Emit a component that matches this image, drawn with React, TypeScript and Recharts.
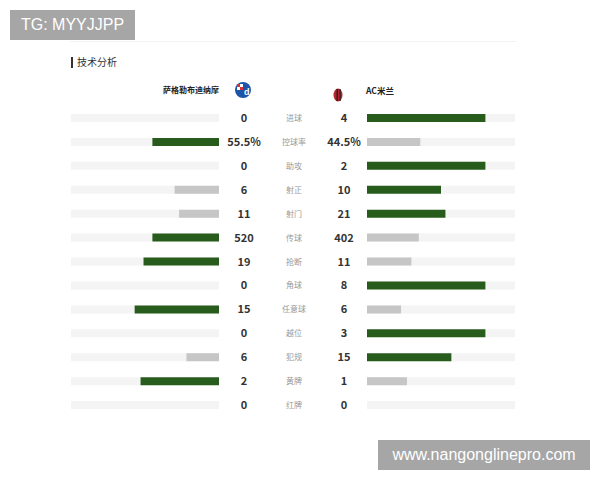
import React from "react";
import { BarChart, Bar, XAxis, YAxis, Cell, LabelList } from "recharts";

// stat names (centre column)
const stats = ["进球", "控球率", "助攻", "射正", "射门", "传球", "抢断", "角球", "任意球", "越位", "犯规", "黄牌", "红牌"];
// displayed values
const homeVals = ["0", "55.5%", "0", "6", "11", "520", "19", "0", "15", "0", "6", "2", "0"];
const awayVals = ["4", "44.5%", "2", "10", "21", "402", "11", "8", "6", "3", "15", "1", "0"];
// bar fill, % of track
const homeShare = [0, 45, 0, 30, 27, 45, 51, 0, 57, 0, 22, 53, 0];
const awayShare = [80, 36, 80, 50, 53, 35, 30, 80, 23, 80, 57, 27, 0];
// which side is highlighted green
const homeWin = [false, true, false, false, false, true, true, false, true, false, false, true, false];
const awayWin = [true, false, true, true, true, false, false, true, false, true, true, false, false];

const GREEN = "#285c1c";
const GREY = "#c6c6c6";
const TRACK = "#f4f4f4";
const FONT = "'Noto Sans CJK SC', 'Noto Sans', sans-serif";

const data = stats.map((s, i) => ({ stat: s, home: homeShare[i], away: awayShare[i] }));

const numLabel = (vals: string[], dx: number) => (p: any) => {
  const { x, y, width, height, index } = p;
  const cx = dx > 0 ? x + width + dx : x + dx;
  return (
    <text x={cx} y={y + height / 2} dy={4} textAnchor="middle" fontSize={11} fontWeight={700} fill="#333" fontFamily={FONT}>
      {vals[index]}
    </text>
  );
};

const statLabel = (p: any) => {
  const { x, y, width, height, index } = p;
  return (
    <text x={x + width + 75} y={y + height / 2} dy={3} textAnchor="middle" fontSize={8} fill="#999" fontFamily={FONT}>
      {stats[index]}
    </text>
  );
};

function DinamoLogo() {
  return (
    <svg width={18} height={18} viewBox="0 0 18 18">
      <circle cx={9} cy={9} r={8} fill="#1b56a8" />
      <rect x={3} y={3} width={3} height={3} fill="#d8303a" />
      <rect x={6} y={3} width={3} height={3} fill="#fff" />
      <rect x={3} y={6} width={3} height={3} fill="#fff" />
      <rect x={6} y={6} width={3} height={3} fill="#d8303a" />
      <text x={10} y={14} fontSize={9} fontWeight={700} fill="#fff" fontFamily="sans-serif">d</text>
    </svg>
  );
}

function MilanLogo() {
  return (
    <svg width={10} height={14} viewBox="0 0 10 14">
      <ellipse cx={5} cy={7} rx={4.5} ry={6.5} fill="#b8222c" />
      <rect x={3.5} y={1} width={1.5} height={12} fill="#222" />
      <rect x={6.5} y={1} width={1.2} height={12} fill="#222" />
    </svg>
  );
}

export default function App() {
  return (
    <div style={{ position: "fixed", left: 0, top: 0, width: 600, height: 480, background: "#fff", fontFamily: FONT }}>
      <div style={{ position: "absolute", left: 10, top: 10, width: 125, height: 30, background: "#a6a6a6", color: "#fff", fontSize: 16, lineHeight: "30px", textAlign: "center", fontFamily: "'Liberation Sans', Arial, sans-serif" }}>
        TG: MYYJJPP
      </div>
      <div style={{ position: "absolute", left: 70, top: 41, width: 446, height: 1, background: "#f2f2f2" }} />
      <div style={{ position: "absolute", left: 71, top: 57, width: 2, height: 11, background: "#333" }} />
      <div style={{ position: "absolute", left: 77, top: 54, fontSize: 10, color: "#333", lineHeight: "16px" }}>技术分析</div>

      <div style={{ position: "absolute", right: 600 - 219, top: 82, fontSize: 8, fontWeight: 700, color: "#222", lineHeight: "16px" }}>萨格勒布迪纳摩</div>
      <div style={{ position: "absolute", left: 234, top: 80 }}><DinamoLogo /></div>
      <div style={{ position: "absolute", left: 333, top: 83 }}><MilanLogo /></div>
      <div style={{ position: "absolute", left: 366, top: 82, fontSize: 8.5, fontWeight: 700, color: "#222", lineHeight: "16px" }}>AC米兰</div>

      <div style={{ position: "absolute", left: 71, top: 106 }}>
        <BarChart width={444} height={311} data={data} layout="vertical" margin={{ top: 0, right: 0, bottom: 0, left: 0 }} barSize={8} barGap={-8}>
          <XAxis type="number" domain={[-150, 150]} hide />
          <YAxis type="category" dataKey="stat" hide />
          <Bar dataKey={() => [-150, -50]} fill={TRACK} isAnimationActive={false}>
            <LabelList content={numLabel(homeVals, 25)} />
            <LabelList content={statLabel} />
          </Bar>
          <Bar dataKey={(d: any) => [-50 - d.home, -50]} isAnimationActive={false}>
            {data.map((d, i) => <Cell key={i} fill={homeWin[i] ? GREEN : GREY} />)}
          </Bar>
          <Bar dataKey={() => [50, 150]} fill={TRACK} isAnimationActive={false}>
            <LabelList content={numLabel(awayVals, -23)} />
          </Bar>
          <Bar dataKey={(d: any) => [50, 50 + d.away]} isAnimationActive={false}>
            {data.map((d, i) => <Cell key={i} fill={awayWin[i] ? GREEN : GREY} />)}
          </Bar>
        </BarChart>
      </div>

      <div style={{ position: "absolute", left: 378, top: 440, width: 212, height: 30, background: "#a6a6a6", color: "#fff", fontSize: 16, lineHeight: "30px", textAlign: "center", fontFamily: "'Liberation Sans', Arial, sans-serif" }}>
        www.nangonglinepro.com
      </div>
    </div>
  );
}
